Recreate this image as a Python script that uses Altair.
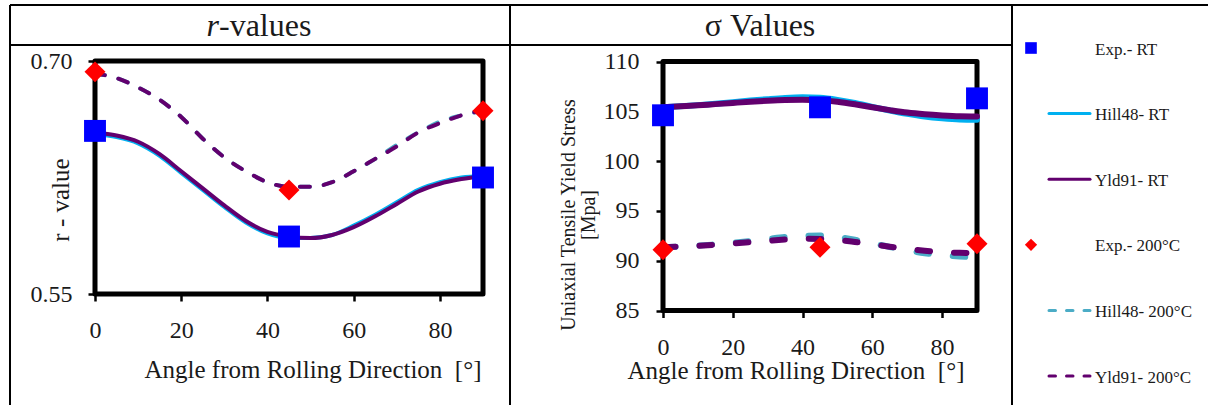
import altair as alt
import pandas as pd

# ------------------------------------------------------------------ data
angles = [0, 5, 10, 15, 20, 25, 30, 35, 40, 45, 50, 55, 60, 65, 70, 75, 80, 85, 90]
exp_angles = [0, 45, 90]

# r-values
r_exp_rt = [0.655, 0.587, 0.625]
r_exp_200 = [0.693, 0.617, 0.668]
r_hill_rt = [0.653, 0.651, 0.647, 0.639, 0.628, 0.617, 0.606, 0.596, 0.589, 0.586,
             0.586, 0.588, 0.594, 0.601, 0.609, 0.617, 0.622, 0.625, 0.626]
r_yld_rt = [0.654, 0.652, 0.648, 0.640, 0.629, 0.618, 0.607, 0.597, 0.590, 0.587,
            0.586, 0.588, 0.593, 0.600, 0.608, 0.616, 0.621, 0.624, 0.626]
r_hill_200 = [0.692, 0.689, 0.683, 0.675, 0.664, 0.650, 0.638, 0.629, 0.622, 0.619,
              0.619, 0.622, 0.629, 0.637, 0.646, 0.654, 0.661, 0.665, 0.668]
r_yld_200 = [0.692, 0.689, 0.683, 0.675, 0.664, 0.650, 0.638, 0.629, 0.622, 0.619,
             0.619, 0.622, 0.629, 0.637, 0.645, 0.654, 0.660, 0.665, 0.668]

# sigma values
s_exp_rt = [104.6, 105.4, 106.3]
s_exp_200 = [91.1, 91.35, 91.7]
s_hill_rt = [105.40, 105.50, 105.62, 105.76, 105.92, 106.08, 106.22, 106.34, 106.40, 106.35,
             106.15, 105.85, 105.45, 105.08, 104.75, 104.48, 104.30, 104.18, 104.15]
s_yld_rt = [105.40, 105.50, 105.60, 105.72, 105.84, 105.96, 106.06, 106.13, 106.15, 106.10,
            105.95, 105.70, 105.40, 105.12, 104.87, 104.70, 104.58, 104.50, 104.48]
s_hill_200 = [91.35, 91.42, 91.52, 91.64, 91.80, 91.98, 92.18, 92.38, 92.50, 92.52,
              92.38, 92.10, 91.75, 91.38, 91.05, 90.75, 90.55, 90.42, 90.36]
s_yld_200 = [91.35, 91.42, 91.50, 91.60, 91.72, 91.86, 92.00, 92.12, 92.20, 92.18,
             92.08, 91.88, 91.65, 91.40, 91.18, 91.00, 90.87, 90.79, 90.76]

x_domain = [0, 90]
x_ticks = [0, 20, 40, 60, 80]
r_domain = [0.55, 0.70]
r_ticks = [0.55, 0.70]
s_domain = [85, 110]
s_ticks = [85, 90, 95, 100, 105, 110]

series_names = ["Hill48- RT", "Yld91- RT", "Hill48- 200°C", "Yld91- 200°C"]
legend_labels = ["Exp.- RT", "Hill48- RT", "Yld91- RT",
                 "Exp.- 200°C", "Hill48- 200°C", "Yld91- 200°C"]

header_left = ["r", "-values"]
header_right = "σ Values"
x_title = "Angle from Rolling Direction \u00a0[°]"
r_title = "r - value"
s_title = ["Uniaxial Tensile Yield Stress", "[Mpa]"]

# ------------------------------------------------------------------ style
FONT = "Liberation Serif"
TXT = "#1a1a1a"
C_BLUE = "#0000FF"
C_RED = "#FF0000"
C_HILL_RT = "#00B0F0"
C_HILL_200 = "#4BACC6"
C_YLD = "#62006E"


def long_df(curves):
    rows = []
    for name, vals in zip(series_names, curves):
        for a, v in zip(angles, vals):
            rows.append({"angle": a, "value": v, "series": name})
    return pd.DataFrame(rows)


def panel(curves, exp_rt, exp_200, ydom, yticks, yfmt, xpx, ypx,
          lw, dash, xlab_pad, ylab_pad):
    xs = alt.Scale(domain=x_domain, range=xpx, nice=False, zero=False)
    ys = alt.Scale(domain=ydom, range=ypx, nice=False, zero=False)
    x_axis = alt.Axis(orient="bottom", offset=ypx[0] - 405, values=x_ticks,
                      domain=False, grid=False, tickSize=7, tickWidth=2.5,
                      tickColor="black", labelFont=FONT, labelFontSize=24,
                      labelColor=TXT, labelPadding=xlab_pad, labelFlush=False,
                      labelOverlap=False, title=None)
    y_axis = alt.Axis(orient="left", offset=-xpx[0], values=yticks, format=yfmt,
                      domain=False, grid=False, tickSize=7, tickWidth=2.5,
                      tickColor="black", labelFont=FONT, labelFontSize=24,
                      labelColor=TXT, labelPadding=ylab_pad, labelFlush=False,
                      labelOverlap=False, title=None)

    def X(f):
        return alt.X(f, scale=xs, axis=x_axis)

    def Y(f):
        return alt.Y(f, scale=ys, axis=y_axis)

    frame_df = pd.DataFrame({"x0": [x_domain[0]], "x1": [x_domain[1]],
                             "y0": [ydom[0]], "y1": [ydom[1]]})
    frame = alt.Chart(frame_df).mark_rect(
        fill="transparent", stroke="black", strokeWidth=5, strokeJoin="round"
    ).encode(x=X("x0:Q"), x2="x1:Q", y=Y("y0:Q"), y2="y1:Q")
    df = long_df(curves)
    layers = [frame]
    styles = {
        "Hill48- 200°C": (C_HILL_200, True),
        "Yld91- 200°C": (C_YLD, True),
        "Hill48- RT": (C_HILL_RT, False),
        "Yld91- RT": (C_YLD, False),
    }
    for name in ["Hill48- 200°C", "Yld91- 200°C", "Hill48- RT", "Yld91- RT"]:
        color, dashed = styles[name]
        kw = dict(color=color, strokeWidth=lw, interpolate="monotone",
                  strokeCap="round")
        if dashed:
            kw["strokeDash"] = dash
        layers.append(
            alt.Chart(df).transform_filter(alt.datum.series == name)
            .mark_line(**kw)
            .encode(x=X("angle:Q"), y=Y("value:Q"))
        )
    exp_df = pd.DataFrame({"angle": exp_angles, "rt": exp_rt, "t200": exp_200})
    layers.append(
        alt.Chart(exp_df).mark_point(shape="square", filled=True, color=C_BLUE,
                                     size=480, opacity=1)
        .encode(x=X("angle:Q"), y=Y("rt:Q"))
    )
    layers.append(
        alt.Chart(exp_df).mark_point(shape="diamond", filled=True, color=C_RED,
                                     size=440, opacity=1)
        .encode(x=X("angle:Q"), y=Y("t200:Q"))
    )
    return alt.layer(*layers)


left = panel([r_hill_rt, r_yld_rt, r_hill_200, r_yld_200], r_exp_rt, r_exp_200,
             r_domain, r_ticks, ".2f", [95, 483], [294, 61], 4, [10, 14], 17, 16)
right = panel([s_hill_rt, s_yld_rt, s_hill_200, s_yld_200], s_exp_rt, s_exp_200,
              s_domain, s_ticks, "d", [663, 977], [310.5, 61.5], 6, [12.5, 24], 18, 17)

one = pd.DataFrame({"k": [0]})


def hrule(x1, x2, y, w=2):
    return alt.Chart(one).mark_rule(color="black", strokeWidth=w).encode(
        x=alt.value(x1), x2=alt.value(x2), y=alt.value(y))


def vrule(x, y1, y2, w=2):
    return alt.Chart(one).mark_rule(color="black", strokeWidth=w).encode(
        x=alt.value(x), y=alt.value(y1), y2=alt.value(y2))


def text(t, x, y, size, align="center", baseline="alphabetic", angle=0,
         style="normal"):
    kw = dict(text=t, font=FONT, fontSize=size, align=align, baseline=baseline,
              color=TXT, fontStyle=style)
    if angle:
        kw["angle"] = angle
    return alt.Chart(one).mark_text(**kw).encode(x=alt.value(x), y=alt.value(y))


deco = [
    hrule(10, 1215, 5),
    hrule(10, 1012, 45),
    vrule(10, 5, 410),
    vrule(510, 5, 410),
    vrule(1012, 5, 410),
    text(header_left[0], 219, 36, 32, align="right", style="italic"),
    text(header_left[1], 219, 36, 32, align="left"),
    text(header_right, 760, 36, 32),
    text(x_title, 313, 378, 25),
    text(x_title, 796, 379, 25),
    text(r_title, 68.5, 200, 25, angle=270),
    text(s_title[0], 575, 215, 20, angle=270),
    text(s_title[1], 595, 215, 20, angle=270),
]

# ------------------------------------------------------------------ legend
leg_df = pd.DataFrame({"label": legend_labels, "idx": list(range(len(legend_labels)))})
ly = alt.Y("idx:Q", scale=alt.Scale(domain=[0, 5], range=[48, 376], nice=False,
                                     zero=False), axis=None)
leg_base = alt.Chart(leg_df)
leg_text = leg_base.mark_text(align="left", baseline="middle", font=FONT,
                              fontSize=17, color=TXT, dy=1.5).encode(
    x=alt.value(1095), y=ly, text="label:N")
leg_sq = leg_base.transform_filter(alt.datum.idx == 0).mark_point(
    shape="square", filled=True, color=C_BLUE, size=135, opacity=1).encode(
    x=alt.value(1031), y=ly)
leg_dm = leg_base.transform_filter(alt.datum.idx == 3).mark_point(
    shape="diamond", filled=True, color=C_RED, size=150, opacity=1).encode(
    x=alt.value(1031), y=ly)
leg_lines = []
for i, c, d in [(1, C_HILL_RT, None), (2, C_YLD, None),
                (4, C_HILL_200, [6.5, 11]), (5, C_YLD, [6.5, 11])]:
    kw = dict(color=c, strokeWidth=3, strokeCap="round")
    if d:
        kw["strokeDash"] = d
    leg_lines.append(
        leg_base.transform_filter(alt.datum.idx == i).mark_rule(**kw).encode(
            x=alt.value(1049), x2=alt.value(1090), y=ly))
legend = alt.layer(leg_text, leg_sq, leg_dm, *leg_lines)

chart = alt.layer(left, right, *deco, legend).resolve_scale(
    x="independent", y="independent"
).properties(
    width=1208, height=405, padding=0,
    autosize=alt.AutoSizeParams(type="none"),
).configure_view(strokeWidth=0)

chart.save("out.html", embed_options={"renderer": "svg", "actions": False})
